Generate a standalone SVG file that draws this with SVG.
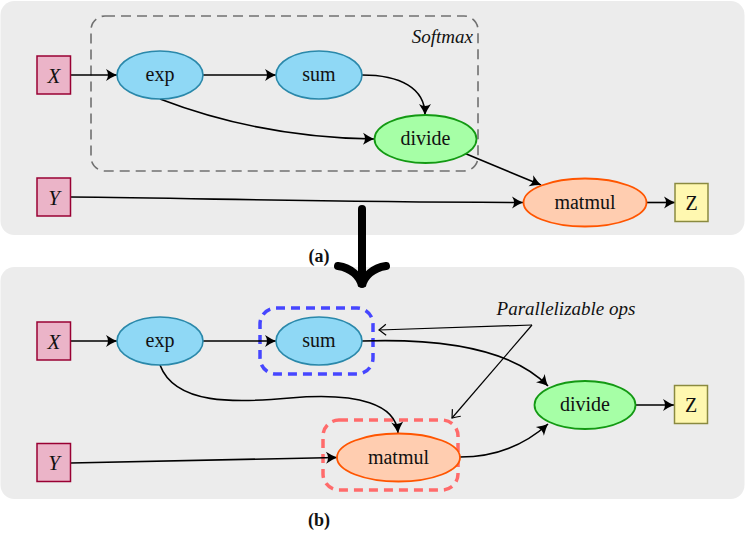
<svg xmlns="http://www.w3.org/2000/svg" width="745" height="533" viewBox="0 0 745 533">
<defs>
<style>
.panel{fill:#ececec;stroke:none}
.inp{fill:#ebb4c8;stroke:#990033;stroke-width:1.5}
.out{fill:#fff8b0;stroke:#8a8a40;stroke-width:1.5}
.blue{fill:#8fd8f5;stroke:#2a88aa;stroke-width:1.6}
.green{fill:#a6ffa6;stroke:#139913;stroke-width:1.8}
.orange{fill:#ffcdb0;stroke:#ff5500;stroke-width:1.8}
text{font-family:'Liberation Serif',Tinos,'Noto Serif','DejaVu Serif',Times,'Times New Roman',serif}
.lbl{font-size:20px;fill:#111;text-anchor:middle}
.var{font-size:21px;font-style:italic;fill:#111;text-anchor:middle}
.note{font-style:italic;fill:#111}
.cap{font-weight:bold;font-size:18px;fill:#111;text-anchor:middle}
.edge{fill:none;stroke:#000;stroke-width:1.6;marker-end:url(#ah)}
.ann{fill:none;stroke:#000;stroke-width:1.2;marker-end:url(#to)}
</style>
<marker id="ah" markerUnits="userSpaceOnUse" markerWidth="14" markerHeight="14" viewBox="-12 -7 13 14" refX="0" refY="0" orient="auto">
<path d="M0,0 Q-5,-2 -11,-6 Q-7,0 -11,6 Q-5,2 0,0 Z" fill="#000"/>
</marker>
<marker id="to" markerUnits="userSpaceOnUse" markerWidth="12" markerHeight="14" viewBox="-9 -7 10 14" refX="0" refY="0" orient="auto">
<path d="M-7,-5.5 Q-2,-1.5 0,0 Q-2,1.5 -7,5.5" fill="none" stroke="#000" stroke-width="1.2"/>
</marker>
</defs>

<rect class="panel" x="0.5" y="1" width="744" height="234" rx="14"/>
<rect class="panel" x="0.5" y="267" width="744" height="232" rx="14"/>

<g id="softmax-box">
<rect x="91" y="16" width="387" height="155" rx="14" fill="none" stroke="#707070" stroke-width="1.6" stroke-dasharray="10 6"/>
<text class="note" x="473" y="43" font-size="19" text-anchor="end">Softmax</text>
</g>
<g id="parallel-sum-box">
<rect x="260" y="308" width="113" height="66" rx="16" fill="none" stroke="#4646ff" stroke-width="3.5" stroke-dasharray="9 6"/>
</g>
<g id="parallel-matmul-box">
<rect x="323" y="420" width="135" height="70" rx="16" fill="none" stroke="#ff6b6b" stroke-width="3.5" stroke-dasharray="9 6"/>
</g>

<g id="connectors">
<path class="edge" d="M71,75 L117,75"/>
<path class="edge" d="M203,75 L276,75"/>
<path class="edge" d="M362,75 C400,75 425,88 425,115"/>
<path class="edge" d="M160,99 C220,122 290,138 374,139"/>
<path class="edge" d="M464,153 L541,185"/>
<path class="edge" d="M70,197 C200,198 300,202 523,202.5"/>
<path class="edge" d="M647,202.5 L675,202.5"/>
<path class="edge" d="M71,341 L117,341"/>
<path class="edge" d="M203,341 L276,341"/>
<path class="edge" d="M362,341 C450,338 515,352 548,386"/>
<path class="edge" d="M160,365 C175,405 235,403 290,398 C360,392 396,405 398,433"/>
<path class="edge" d="M70.5,463 L337,457.5"/>
<path class="edge" d="M460,457 C500,457 528,442 548,424"/>
<path class="edge" d="M635,405 L674,405"/>
<path class="ann" d="M532,325 L379,330"/>
<path class="ann" d="M532,325 L452,418"/>
<g id="big-arrow" fill="none" stroke="#000" stroke-width="8" stroke-linecap="round">
<path d="M362,209 L362,284"/>
<path d="M338,266 C351,268 360,276 362,286 C364,276 373,268 386,266"/>
</g>
</g>

<g id="top-X"><rect class="inp" x="37" y="56" width="33.5" height="38"/><text class="var" x="54" y="82.5">X</text></g>
<g id="top-Y"><rect class="inp" x="37" y="178" width="33.5" height="38"/><text class="var" x="54" y="204.5">Y</text></g>
<g id="top-exp"><ellipse class="blue" cx="160" cy="75" rx="43" ry="24"/><text class="lbl" x="160" y="81">exp</text></g>
<g id="top-sum"><ellipse class="blue" cx="319" cy="75" rx="43" ry="24"/><text class="lbl" x="319" y="81">sum</text></g>
<g id="top-divide"><ellipse class="green" cx="425.5" cy="139" rx="51" ry="24"/><text class="lbl" x="425.5" y="145">divide</text></g>
<g id="top-matmul"><ellipse class="orange" cx="585" cy="202.5" rx="61.5" ry="24"/><text class="lbl" x="585" y="208.5">matmul</text></g>
<g id="top-Z"><rect class="out" x="675" y="183.5" width="33" height="38"/><text class="lbl" x="691.5" y="209.5">Z</text></g>

<g id="bot-X"><rect class="inp" x="37" y="322" width="33.5" height="38"/><text class="var" x="54" y="348.5">X</text></g>
<g id="bot-Y"><rect class="inp" x="37" y="443.5" width="33.5" height="38"/><text class="var" x="54" y="470">Y</text></g>
<g id="bot-exp"><ellipse class="blue" cx="160" cy="341" rx="43" ry="24"/><text class="lbl" x="160" y="347">exp</text></g>
<g id="bot-sum"><ellipse class="blue" cx="319" cy="341" rx="43" ry="24"/><text class="lbl" x="319" y="347">sum</text></g>
<g id="bot-matmul"><ellipse class="orange" cx="398.5" cy="457.5" rx="61.5" ry="24"/><text class="lbl" x="398.5" y="463.5">matmul</text></g>
<g id="bot-divide"><ellipse class="green" cx="585" cy="405" rx="50.5" ry="24"/><text class="lbl" x="585" y="411">divide</text></g>
<g id="bot-Z"><rect class="out" x="674.5" y="385.5" width="33" height="38"/><text class="lbl" x="691" y="411.5">Z</text></g>

<text class="note" x="566" y="315" font-size="19" text-anchor="middle">Parallelizable ops</text>
<text class="cap" x="319" y="262">(a)</text>
<text class="cap" x="319" y="526">(b)</text>
</svg>
